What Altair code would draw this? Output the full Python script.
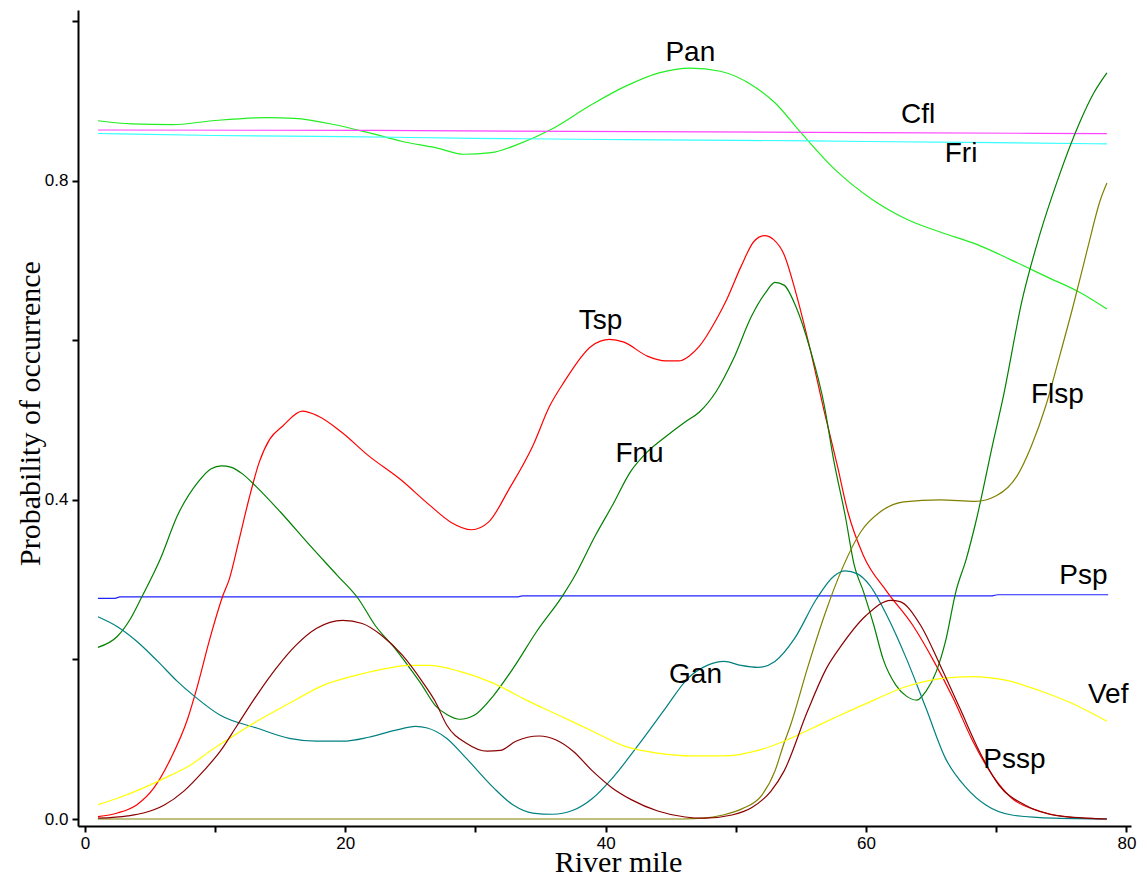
import altair as alt
import pandas as pd

# ---- data ----
pan_x = [1, 3.6, 6.7, 9.8, 14, 16.1, 19.2, 21.8, 24.4, 27, 29.1, 31.2, 33.2, 35.8, 38.9, 41.5, 44.1, 46.5, 48.8,
         51.4, 53, 55, 57.6, 60.5, 63.2, 65.8, 68.5, 71.1, 73.8, 76.4, 78.5]
pan_y = [0.875, 0.871, 0.87, 0.875, 0.879, 0.878, 0.87, 0.86, 0.849, 0.841, 0.833, 0.835, 0.845, 0.864, 0.895,
         0.918, 0.935, 0.941, 0.937, 0.918, 0.8975, 0.86, 0.814, 0.776, 0.751, 0.735, 0.72, 0.701, 0.68, 0.66, 0.639]

cfl_x = [1, 22, 48, 73, 78.5]
cfl_y = [0.8634, 0.8628, 0.861, 0.8592, 0.8588]

fri_x = [1, 10, 20, 30, 40, 50, 60, 70, 78.5]
fri_y = [0.859, 0.8565, 0.855, 0.853, 0.8515, 0.8505, 0.849, 0.8475, 0.846]

psp_x = [1, 2.3, 2.7, 33.2, 33.6, 69.7, 70.1, 78.6]
psp_y = [0.2765, 0.2765, 0.2783, 0.2783, 0.2797, 0.2797, 0.281, 0.281]

tsp_x = [1, 2.5, 4, 5.3, 6.6, 7.9, 8.6, 9.6, 10.6, 11.1, 11.8, 12.6, 13.4, 14.2, 15.2, 16.7, 17.9, 19.7, 21.8,
         24.2, 26.5, 28.1, 29.7, 31.0, 32.6, 34.4, 35.7, 36.8, 38.9, 40.3, 41.4, 43.2, 44.6, 45.6, 46.4, 47.2,
         48.5, 49.3, 50.4, 51.4, 52.2, 52.9, 53.7, 54.6, 55.7, 56.8, 57.8, 58.6, 59.8, 61.6, 63.6, 65.1, 66.7,
         68.2, 69.7, 71.2, 73.3, 75.8, 78.5]
tsp_y = [0.003, 0.0075, 0.018, 0.039, 0.076, 0.126, 0.164, 0.226, 0.28, 0.301, 0.347, 0.401, 0.4475, 0.476,
         0.4925, 0.511, 0.505, 0.485, 0.455, 0.426, 0.393, 0.372, 0.3625, 0.372, 0.414, 0.4675, 0.5175, 0.5475,
         0.5925, 0.601, 0.5975, 0.58, 0.574, 0.574, 0.58, 0.5925, 0.626, 0.651, 0.6925, 0.724, 0.731, 0.726,
         0.7075, 0.66, 0.589, 0.51, 0.4425, 0.385, 0.33, 0.285, 0.2425, 0.201, 0.151, 0.0975, 0.055, 0.026,
         0.01, 0.002, 0.0]

fnu_x = [1, 2.5, 3.5, 4.3, 5.8, 7.1, 8.7, 9.7, 10.5, 11.2, 12.1, 13.1, 15, 17.3, 19.4, 21, 22.3, 23.8, 24.8,
         25.9, 26.9, 27.8, 28.8, 29.9, 31.4, 32.9, 34.7, 36.7, 37.5, 39.2, 40.5, 41.9, 43.2, 44.6, 46.1, 47.2,
         48.5, 49.8, 51.2, 52.3, 53, 53.7, 54.6, 55.7, 56.8, 57.5, 58.4, 59.1, 59.8, 60.6, 61.3, 62.3, 63.1,
         63.9, 64.6, 65.4, 66.1, 66.9, 67.7, 68.4, 69.8, 70.5, 72, 73.3, 74.7, 76.4, 77.5, 78.5]
fnu_y = [0.215, 0.229, 0.251, 0.276, 0.326, 0.38, 0.4225, 0.439, 0.4425, 0.441, 0.4325, 0.4175, 0.385, 0.3425,
         0.305, 0.276, 0.2425, 0.214, 0.1925, 0.1675, 0.1425, 0.131, 0.125, 0.13, 0.155, 0.189, 0.235, 0.28,
         0.301, 0.355, 0.3925, 0.435, 0.46, 0.479, 0.4975, 0.51, 0.536, 0.576, 0.63, 0.66, 0.6725, 0.669,
         0.6425, 0.589, 0.5175, 0.451, 0.38, 0.3175, 0.285, 0.2425, 0.201, 0.1675, 0.154, 0.149, 0.16, 0.185,
         0.2225, 0.285, 0.326, 0.37, 0.475, 0.526, 0.651, 0.73, 0.8, 0.8725, 0.91, 0.935]

flsp_x = [1, 46, 47.5, 49, 50.5, 52, 53, 53.7, 54.2, 55.5, 56.8, 58.2, 59.6, 61.1, 62.9, 65.7, 68.4, 70, 71.6,
          72.7, 73.8, 74.8, 75.9, 77, 78, 78.5]
flsp_y = [0, 0, 0.001, 0.005, 0.013, 0.03, 0.06, 0.095, 0.1175, 0.189, 0.255, 0.315, 0.36, 0.385, 0.3975, 0.4,
          0.398, 0.405, 0.43, 0.4675, 0.5175, 0.576, 0.6425, 0.714, 0.776, 0.797]

gan_x = [1, 2.5, 4, 5.6, 7.1, 8.4, 10.4, 13.2, 15.7, 17.8, 19.8, 21.8, 23.8, 25.4, 26.3, 27.8, 29.3, 31.4, 32.9,
         34.4, 35.9, 37.5, 39, 40.5, 42.5, 44.6, 46.3, 47.8, 49.1, 50.4, 51.7, 53, 54.5, 56.2, 57.5, 58.4, 59.3,
         60.3, 61.6, 63.1, 64.6, 66.1, 67.7, 69.2, 71.2, 74.5, 78.5]
gan_y = [0.2535, 0.241, 0.2225, 0.1975, 0.1725, 0.154, 0.13, 0.114, 0.101, 0.0975, 0.0975, 0.1025, 0.111, 0.116,
         0.114, 0.101, 0.076, 0.039, 0.0175, 0.0075, 0.006, 0.011, 0.026, 0.051, 0.0925, 0.139, 0.176, 0.1925,
         0.1975, 0.1925, 0.19, 0.1975, 0.226, 0.276, 0.304, 0.311, 0.3075, 0.2925, 0.255, 0.201, 0.139, 0.076,
         0.039, 0.0175, 0.005, 0.001, 0.0]

vef_x = [1, 2.5, 4.5, 6.6, 8.1, 9.6, 11.1, 13.2, 15.7, 18.3, 20.8, 22.8, 24.9, 26.4, 28.8, 31.4, 33.9, 36.4, 39,
         41.5, 44, 46.6, 49.1, 51.7, 53.7, 55.5, 58, 60.6, 63.1, 65.7, 68.2, 70.7, 73.3, 75.8, 78.5]
vef_y = [0.018, 0.026, 0.039, 0.055, 0.0675, 0.085, 0.101, 0.1225, 0.145, 0.1675, 0.18, 0.1875, 0.1925, 0.1925,
         0.185, 0.17, 0.149, 0.13, 0.11, 0.091, 0.0825, 0.079, 0.079, 0.086, 0.0975, 0.111, 0.13, 0.149, 0.166,
         0.176, 0.1785, 0.174, 0.161, 0.145, 0.1225]

pssp_x = [1, 3.3, 4.5, 6.1, 7.6, 9.1, 10.4, 11.7, 13.2, 14.7, 16.2, 17.8, 19.8, 21.3, 22.8, 24.4, 25.9, 26.9,
          27.8, 29.3, 30.9, 31.9, 33.1, 34.9, 36.2, 37.5, 39, 40.5, 42, 44, 46.1, 47.6, 49.7, 51.2, 52.7, 53.7,
          55.5, 57, 58, 60, 61.9, 62.6, 64.2, 65.7, 67.2, 68.7, 70.2, 72.2, 74.8, 78.5]
pssp_y = [0.001, 0.004, 0.0075, 0.0175, 0.035, 0.06, 0.085, 0.1175, 0.155, 0.189, 0.2175, 0.239, 0.249, 0.245,
          0.23, 0.205, 0.1725, 0.1475, 0.1175, 0.095, 0.085, 0.086, 0.0975, 0.104, 0.099, 0.085, 0.06, 0.039,
          0.024, 0.01, 0.0025, 0.001, 0.005, 0.014, 0.035, 0.06, 0.135, 0.19, 0.215, 0.255, 0.274, 0.2725,
          0.2425, 0.1925, 0.139, 0.085, 0.0425, 0.0175, 0.004, 0.0]

series_names = ["Pan", "Cfl", "Fri", "Psp", "Tsp", "Fnu", "Flsp", "Gan", "Vef", "Pssp"]
series_colors = ["#22ee22", "#ff44ff", "#33ffff", "#2222ff", "#ff0000", "#008000", "#808000", "#008080",
                 "#ffff00", "#8b0000"]
series_data = [(pan_x, pan_y), (cfl_x, cfl_y), (fri_x, fri_y), (psp_x, psp_y), (tsp_x, tsp_y),
               (fnu_x, fnu_y), (flsp_x, flsp_y), (gan_x, gan_y), (vef_x, vef_y), (pssp_x, pssp_y)]

label_text = ["Pan", "Cfl", "Fri", "Tsp", "Fnu", "Flsp", "Psp", "Gan", "Vef", "Pssp"]
label_x = [46.5, 64.0, 67.3, 39.6, 42.6, 74.7, 76.7, 46.9, 78.6, 71.4]
label_y = [0.96, 0.8825, 0.833, 0.624, 0.457, 0.531, 0.304, 0.181, 0.155, 0.074]

x_ticks = [0, 10, 20, 30, 40, 50, 60, 70, 80]
y_ticks = [0.0, 0.2, 0.4, 0.6, 0.8, 1.0]

# ---- build tables ----
rows = []
for name, (xs, ys) in zip(series_names, series_data):
    for i, (a, b) in enumerate(zip(xs, ys)):
        rows.append({"series": name, "mile": a, "p": b, "idx": i})
df = pd.DataFrame(rows)
labels = pd.DataFrame({"text": label_text, "mile": label_x, "p": label_y})

xscale = alt.Scale(domain=[-0.53, 80.35], nice=False, zero=False)
yscale = alt.Scale(domain=[-0.00875, 1.01375], nice=False, zero=False)

xaxis = alt.Axis(values=x_ticks, labelExpr="datum.value % 20 == 0 ? datum.label : ''",
                 title="River mile", titleX=540, titleY=45, titleAlign="center",
                 titleBaseline="alphabetic", grid=False)
yaxis = alt.Axis(values=y_ticks,
                 labelExpr="(datum.value == 0 || datum.value == 0.4 || datum.value == 0.8) ? format(datum.value, '.1f') : ''",
                 title="Probability of occurrence", titleX=-39, titleY=403, titleAngle=270,
                 titleAlign="center", titleBaseline="alphabetic", grid=False)

lines = alt.Chart(df).mark_line(strokeWidth=1.2, interpolate="monotone").encode(
    x=alt.X("mile:Q", scale=xscale, axis=xaxis),
    y=alt.Y("p:Q", scale=yscale, axis=yaxis),
    color=alt.Color("series:N", scale=alt.Scale(domain=series_names, range=series_colors), legend=None),
    order=alt.Order("idx:Q"),
)

texts = alt.Chart(labels).mark_text(font="Liberation Sans", fontSize=28, color="black",
                                    align="center", baseline="middle").encode(
    x=alt.X("mile:Q", scale=xscale),
    y=alt.Y("p:Q", scale=yscale),
    text="text:N",
)

chart = alt.layer(lines, texts).properties(
    width=1053, height=816,
    padding={"left": 70, "top": 2, "right": 8, "bottom": 51},
    autosize=alt.AutoSizeParams(type="none"),
).configure_view(stroke=None).configure_axis(
    domainColor="black", domainWidth=2, tickColor="black", tickWidth=2, tickSize=6,
    labelFont="Liberation Sans", labelFontSize=17, labelColor="black",
    titleFont="Liberation Serif", titleFontSize=30, titleFontWeight="normal", titleColor="black",
).configure_axisX(labelPadding=3).configure_axisY(labelPadding=4)

chart.save("out.html", embed_options={"renderer": "svg", "actions": False})
